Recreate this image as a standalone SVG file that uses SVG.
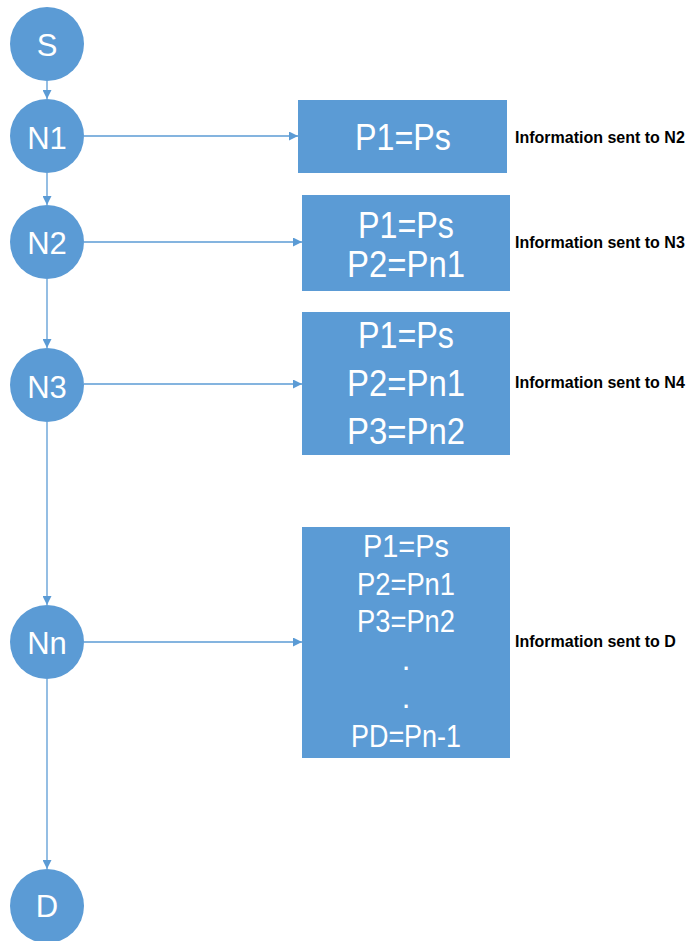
<svg xmlns="http://www.w3.org/2000/svg" width="692" height="941" viewBox="0 0 692 941">
<style>
.node circle{fill:#5b9bd5}
.box rect{fill:#5b9bd5}
.nt{font-family:"Liberation Sans",Arial,sans-serif;font-size:31px;fill:#fff;text-anchor:middle}
.bt{font-family:"Liberation Sans",Arial,sans-serif;font-size:37px;fill:#fff;text-anchor:middle}
.bs{font-family:"Liberation Sans",Arial,sans-serif;font-size:31px;fill:#fff;text-anchor:middle}
.lbl{font-family:"Liberation Sans",Arial,sans-serif;font-size:16px;font-weight:bold;fill:#000}
.conn line{stroke:#5b9bd5;stroke-width:1.3;fill:none}
</style>
<defs>
<marker id="ah" viewBox="0 0 10 10" refX="10" refY="5" markerWidth="9" markerHeight="9" markerUnits="userSpaceOnUse" orient="auto">
<path d="M0,0 L10,5 L0,10 z" fill="#5b9bd5"/>
</marker>
</defs>
<rect width="692" height="941" fill="#fff"/>
<g class="conn" id="connectors">
<line x1="47" y1="81" x2="47" y2="99" marker-end="url(#ah)"/>
<line x1="47" y1="173" x2="47" y2="205" marker-end="url(#ah)"/>
<line x1="47" y1="279" x2="47" y2="348" marker-end="url(#ah)"/>
<line x1="47" y1="422" x2="47" y2="605" marker-end="url(#ah)"/>
<line x1="47" y1="679" x2="47" y2="869" marker-end="url(#ah)"/>
<line x1="84" y1="136" x2="298" y2="136" marker-end="url(#ah)"/>
<line x1="84" y1="242" x2="302" y2="242" marker-end="url(#ah)"/>
<line x1="84" y1="384" x2="302" y2="384" marker-end="url(#ah)"/>
<line x1="84" y1="642" x2="302" y2="642" marker-end="url(#ah)"/>
</g>
<g class="node" id="S"><circle cx="47" cy="44" r="37"/><text class="nt" x="47" y="56">S</text></g>
<g class="node" id="N1"><circle cx="47" cy="136" r="37"/><text class="nt" x="47" y="149">N1</text></g>
<g class="node" id="N2"><circle cx="47" cy="242" r="37"/><text class="nt" x="47" y="254">N2</text></g>
<g class="node" id="N3"><circle cx="47" cy="385" r="37"/><text class="nt" x="47" y="398">N3</text></g>
<g class="node" id="Nn"><circle cx="47" cy="642" r="37"/><text class="nt" x="47" y="654">Nn</text></g>
<g class="node" id="D"><circle cx="47" cy="906" r="37"/><text class="nt" x="47" y="917">D</text></g>
<g class="box" id="box1"><rect x="298" y="100" width="209" height="73"/><text class="bt" x="403" y="150" textLength="96" lengthAdjust="spacingAndGlyphs">P1=Ps</text></g>
<g class="box" id="box2"><rect x="302" y="195" width="208" height="96"/><text class="bt" x="406" y="238" textLength="96" lengthAdjust="spacingAndGlyphs">P1=Ps</text><text class="bt" x="406" y="277" textLength="118" lengthAdjust="spacingAndGlyphs">P2=Pn1</text></g>
<g class="box" id="box3"><rect x="302" y="312" width="208" height="143"/><text class="bt" x="406" y="348" textLength="96" lengthAdjust="spacingAndGlyphs">P1=Ps</text><text class="bt" x="406" y="396" textLength="118" lengthAdjust="spacingAndGlyphs">P2=Pn1</text><text class="bt" x="406" y="444" textLength="118" lengthAdjust="spacingAndGlyphs">P3=Pn2</text></g>
<g class="box" id="box4"><rect x="302" y="527" width="208" height="231"/><text class="bs" x="406" y="557" textLength="86" lengthAdjust="spacingAndGlyphs">P1=Ps</text><text class="bs" x="406" y="595" textLength="98" lengthAdjust="spacingAndGlyphs">P2=Pn1</text><text class="bs" x="406" y="632" textLength="98" lengthAdjust="spacingAndGlyphs">P3=Pn2</text><text class="bs" x="406" y="670">.</text><text class="bs" x="406" y="708">.</text><text class="bs" x="406" y="747" textLength="110" lengthAdjust="spacingAndGlyphs">PD=Pn-1</text></g>
<g id="labels">
<text class="lbl" x="515" y="143">Information sent to N2</text>
<text class="lbl" x="515" y="248">Information sent to N3</text>
<text class="lbl" x="515" y="388">Information sent to N4</text>
<text class="lbl" x="515" y="647">Information sent to D</text>
</g>
</svg>
